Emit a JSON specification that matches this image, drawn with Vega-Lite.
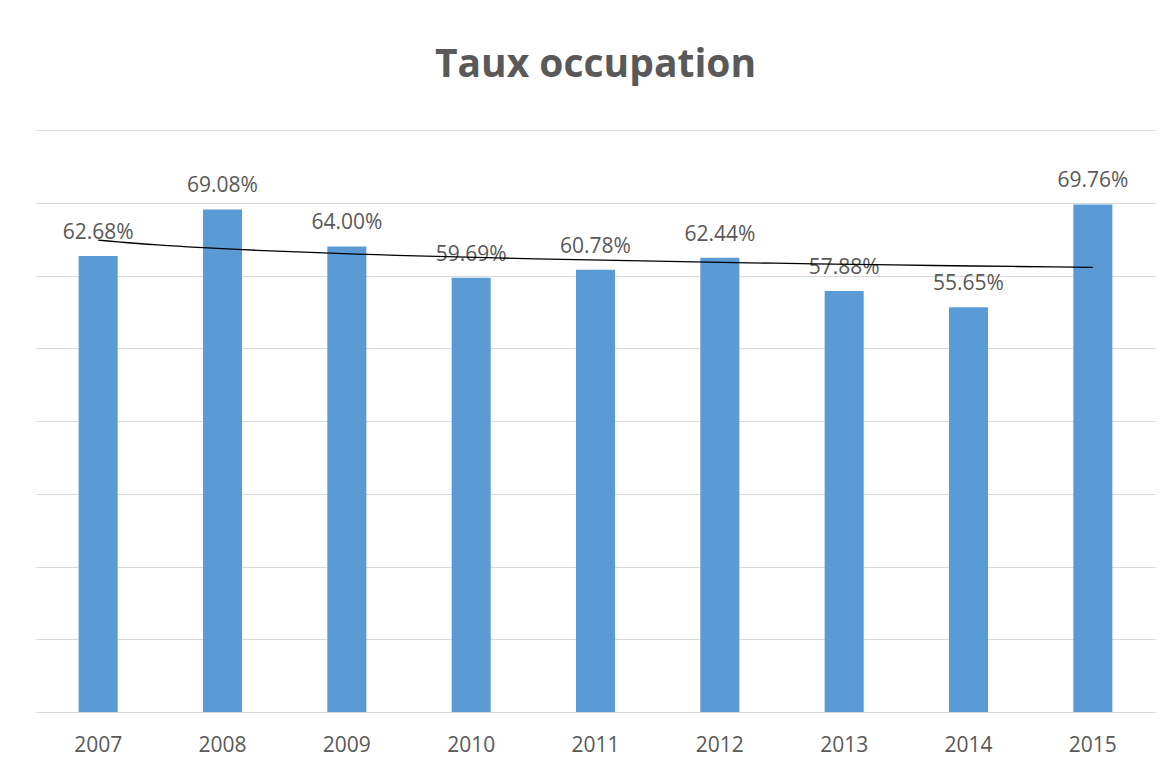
{
  "$schema": "https://vega.github.io/schema/vega-lite/v6.json",
  "width": 1119,
  "height": 582,
  "autosize": "none",
  "padding": {"left": 36, "top": 130, "right": 16, "bottom": 68},
  "background": "white",
  "title": {
    "text": "Taux occupation",
    "font": "Open Sans",
    "fontSize": 39,
    "fontWeight": "bold",
    "color": "#595959",
    "anchor": "middle",
    "offset": 45
  },
  "config": {"view": {"stroke": null}},
  "data": {
    "values": [
      {"year": "2007", "idx": 1, "v": 0.6268},
      {"year": "2008", "idx": 2, "v": 0.6908},
      {"year": "2009", "idx": 3, "v": 0.6400},
      {"year": "2010", "idx": 4, "v": 0.5969},
      {"year": "2011", "idx": 5, "v": 0.6078},
      {"year": "2012", "idx": 6, "v": 0.6244},
      {"year": "2013", "idx": 7, "v": 0.5788},
      {"year": "2014", "idx": 8, "v": 0.5565},
      {"year": "2015", "idx": 9, "v": 0.6976}
    ]
  },
  "layer": [
    {
      "mark": {"type": "bar", "color": "#5B9BD5"},
      "encoding": {
        "x": {
          "field": "year", "type": "ordinal",
          "scale": {"paddingInner": 0.686, "paddingOuter": 0.343},
          "axis": {
            "title": null, "ticks": false, "domain": false, "grid": false,
            "labelAngle": 0, "labelFont": "Open Sans", "labelFontSize": 21,
            "labelColor": "#595959", "labelPadding": 22
          }
        },
        "y": {
          "field": "v", "type": "quantitative",
          "scale": {"domain": [0, 0.8]},
          "axis": {
            "title": null, "labels": false, "ticks": false, "domain": false,
            "grid": true, "gridColor": "#d9d9d9", "gridWidth": 1,
            "values": [0, 0.1, 0.2, 0.3, 0.4, 0.5, 0.6, 0.7, 0.8]
          }
        }
      }
    },
    {
      "mark": {"type": "text", "font": "Open Sans", "fontSize": 21, "color": "#595959", "baseline": "alphabetic", "dy": -17},
      "encoding": {
        "x": {"field": "year", "type": "ordinal", "axis": null},
        "y": {"field": "v", "type": "quantitative"},
        "text": {"field": "v", "type": "quantitative", "format": ".2%"}
      }
    },
    {
      "transform": [{"regression": "v", "on": "idx", "method": "log"}],
      "mark": {"type": "line", "color": "#000000", "strokeWidth": 1.3},
      "encoding": {
        "x": {"field": "idx", "type": "quantitative", "scale": {"domain": [0.5, 9.5], "nice": false, "zero": false}, "axis": null},
        "y": {"field": "v", "type": "quantitative"}
      }
    }
  ],
  "resolve": {"scale": {"x": "independent"}}
}
